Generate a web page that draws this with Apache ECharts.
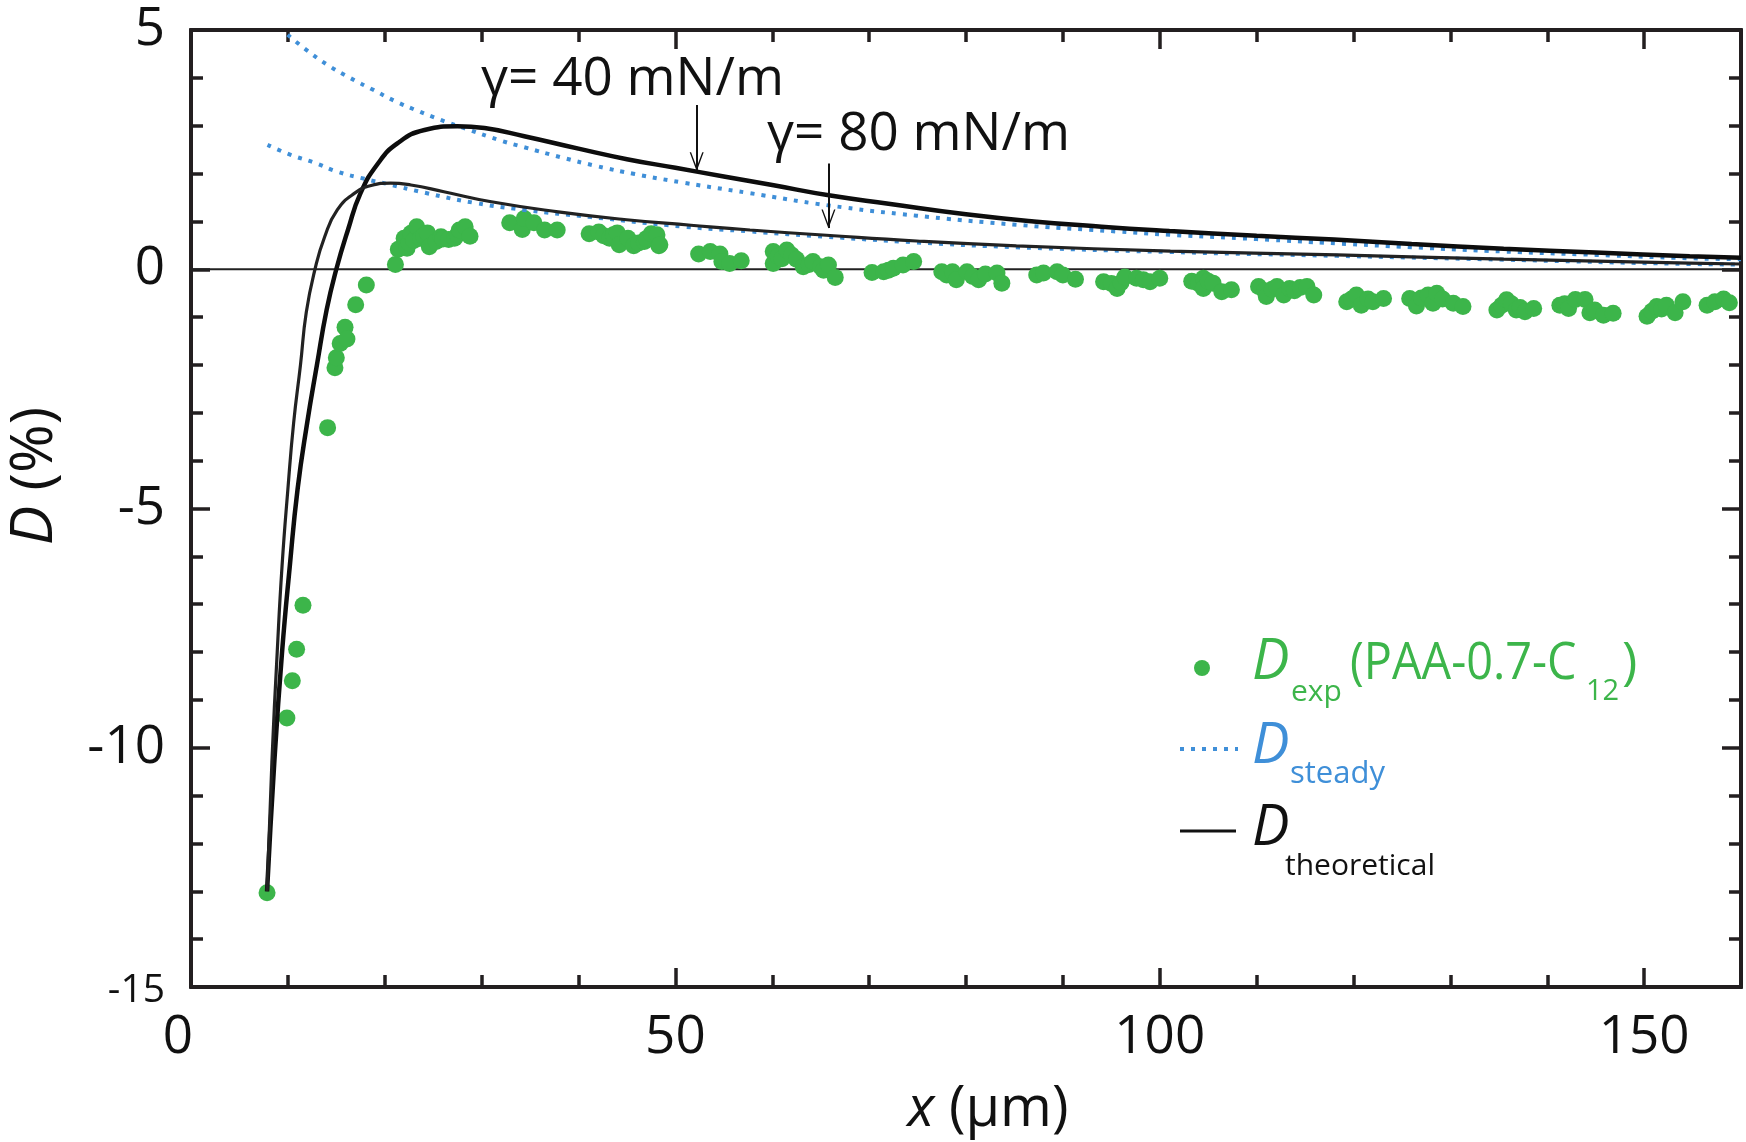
<!DOCTYPE html>
<html>
<head>
<meta charset="utf-8">
<title>D vs x</title>
<script src="https://cdn.jsdelivr.net/npm/echarts@6/dist/echarts.min.js"></script>
<style>
  html, body { margin: 0; padding: 0; background: #fff; }
  #chart { width: 1746px; height: 1142px; }
</style>
</head>
<body>
<div id="chart"></div>
<script>
// measured points, D_exp (PAA-0.7-C12)
const expX = [
  7.85, 9.9, 10.46, 10.9, 11.56, 14.1, 14.86, 15.0, 15.4, 15.9, 16.1, 17.0, 18.1,
  21.1, 21.4, 22.0, 22.3, 22.5, 22.7, 23.0, 23.3, 23.7, 24.0, 24.4, 24.6, 25.3, 25.8, 26.0, 26.6, 27.2, 27.5, 27.7, 28.3, 28.8,
  32.9, 34.2, 34.4, 35.4, 36.5, 37.8,
  41.1, 42.1, 42.6, 43.2, 43.6, 44.0, 44.2, 45.1, 45.7, 46.2, 46.8, 47.0, 47.5, 48.1, 48.3, 48.4,
  52.4, 53.6, 54.6, 54.8, 55.6, 56.8,
  60.1, 60.1, 60.6, 61.0, 61.5, 62.0, 62.5, 63.2, 63.8, 64.2, 65.0, 65.3, 65.8, 66.5,
  70.3, 71.5, 72.0, 72.5, 73.5, 74.6,
  77.5, 78.0, 78.6, 79.0, 80.1, 80.7, 81.3, 82.0, 83.2, 83.7,
  87.3, 88.0, 89.4, 90.0, 91.3,
  94.2, 95.0, 95.6, 96.0, 96.4, 97.6, 98.3, 99.0, 100.0,
  103.3, 104.0, 104.5, 104.5, 105.0, 105.5, 106.4, 107.4,
  110.2, 110.8, 111.0, 111.6, 112.1, 112.8, 113.4, 113.9, 114.5, 115.2, 115.9,
  119.3, 119.8, 120.3, 120.8, 121.5, 122.0, 123.1,
  125.8, 126.5, 127.0, 127.7, 128.2, 128.6, 129.2, 130.3, 131.3,
  134.8, 135.3, 135.8, 136.3, 136.8, 137.2, 137.7, 138.6,
  141.3, 141.8, 142.2, 142.9, 143.9, 144.4, 144.9, 145.8, 146.8,
  150.3, 150.8, 151.3, 151.8, 152.3, 153.2, 154.0,
  156.5, 157.3, 158.2, 158.8
];
const expD = [
  -13.03, -9.38, -8.6, -7.94, -7.02, -3.31, -2.06, -1.85, -1.55, -1.21, -1.46, -0.74, -0.33,
  0.10, 0.42, 0.65, 0.44, 0.55, 0.75, 0.60, 0.89, 0.65, 0.70, 0.76, 0.47, 0.58, 0.68, 0.63, 0.62, 0.65, 0.72, 0.82, 0.89, 0.69,
  0.97, 0.83, 1.06, 0.97, 0.82, 0.82,
  0.74, 0.78, 0.70, 0.65, 0.72, 0.76, 0.51, 0.65, 0.49, 0.55, 0.58, 0.64, 0.74, 0.72, 0.49, 0.51,
  0.32, 0.37, 0.32, 0.16, 0.12, 0.18,
  0.37, 0.12, 0.27, 0.22, 0.40, 0.30, 0.21, 0.05, 0.10, 0.16, 0.05, -0.02, 0.09, -0.17,
  -0.07, -0.05, -0.02, 0.02, 0.09, 0.16,
  -0.05, -0.12, -0.05, -0.22, -0.05, -0.15, -0.22, -0.10, -0.08, -0.29,
  -0.12, -0.08, -0.05, -0.12, -0.21,
  -0.26, -0.30, -0.40, -0.28, -0.16, -0.19, -0.22, -0.26, -0.19,
  -0.25, -0.30, -0.19, -0.40, -0.25, -0.29, -0.47, -0.43,
  -0.36, -0.45, -0.57, -0.42, -0.36, -0.54, -0.40, -0.45, -0.38, -0.36, -0.54,
  -0.68, -0.62, -0.54, -0.75, -0.62, -0.68, -0.61,
  -0.61, -0.77, -0.60, -0.54, -0.71, -0.50, -0.62, -0.71, -0.78,
  -0.85, -0.75, -0.64, -0.72, -0.85, -0.80, -0.89, -0.82,
  -0.75, -0.72, -0.82, -0.63, -0.63, -0.91, -0.85, -0.96, -0.92,
  -0.98, -0.88, -0.78, -0.83, -0.75, -0.91, -0.68,
  -0.75, -0.68, -0.62, -0.70
];

// D_theoretical, gamma = 40 mN/m (thick) and 80 mN/m (thin)
const theoX40 = [7.85, 8.6, 9.4, 10.2, 11.0, 12.0, 13.0, 14.0, 15.0, 16.2, 17.5, 19.3, 21.3, 24.1, 27.5, 30.3, 34.4, 40, 45, 50, 55, 60, 66, 72, 80, 87, 94, 101, 110, 118, 126, 135.5, 145, 154.7, 160];
const theoD40 = [-13.0, -10.3, -8.0, -6.2, -4.6, -3.2, -2.0, -0.85, 0.0, 0.82, 1.59, 2.21, 2.63, 2.91, 2.99, 2.95, 2.78, 2.52, 2.30, 2.12, 1.94, 1.76, 1.54, 1.37, 1.15, 1.00, 0.89, 0.80, 0.70, 0.62, 0.53, 0.43, 0.35, 0.27, 0.24];
const theoX80 = [7.85, 8.35, 8.9, 9.4, 10.0, 10.6, 11.3, 11.9, 12.8, 13.8, 15.1, 16.9, 18.6, 20.6, 22.7, 26.1, 31.0, 37.9, 44.7, 51.6, 57.7, 65.6, 74.9, 85.2, 101.1, 118.3, 135.5, 154.7, 160];
const theoD80 = [-13.0, -10.3, -8.0, -6.2, -4.6, -3.2, -2.0, -0.9, 0.0, 0.68, 1.24, 1.59, 1.75, 1.80, 1.76, 1.62, 1.41, 1.20, 1.04, 0.92, 0.82, 0.71, 0.59, 0.49, 0.38, 0.30, 0.21, 0.13, 0.11];

// D_steady for the same two tensions (dotted)
const steadyX40 = [9.98, 12.0, 14.1, 16.5, 18.8, 21.0, 23.4, 25.8, 28.2, 31.8, 34.4, 38.2, 41.8, 45.8, 50.8, 57.7, 65.6, 74.9, 85.2, 95.5, 101.1, 110, 118.3, 126, 135.5, 145, 154.7, 160];
const steadyD40 = [4.90, 4.57, 4.27, 3.99, 3.75, 3.52, 3.31, 3.12, 2.95, 2.70, 2.55, 2.34, 2.16, 1.99, 1.81, 1.59, 1.34, 1.12, 0.93, 0.79, 0.72, 0.63, 0.54, 0.46, 0.37, 0.30, 0.23, 0.21];
const steadyX80 = [7.9, 10.3, 12.7, 15.1, 17.9, 20.3, 24.1, 29.2, 34.4, 41.3, 50.9, 57.7, 65.6, 74.9, 85.2, 101.1, 118.3, 135.5, 154.7, 160];
const steadyD80 = [2.60, 2.39, 2.23, 2.04, 1.89, 1.78, 1.60, 1.39, 1.24, 1.09, 0.89, 0.79, 0.68, 0.56, 0.46, 0.36, 0.28, 0.20, 0.11, 0.10];

const xLabels = [0, 50, 100, 150];
const yLabels = [5, 0, -5, -10, -15];

// arrows: [x, yFrom, yTo]
const arrow40 = [52.2, 3.43, 2.06];
const arrow80 = [65.8, 2.21, 0.86];

const FONT = "'Open Sans', 'Noto Sans', sans-serif";
const AXIS = '#231f20';
const GREEN = '#3cb54a';
const BLUE = '#3f8fd8';

const zip = (xs, ys) => xs.map((x, i) => [x, ys[i]]);

// open chevron pointing up (tip at top)
const arrowHead = 'path://M0,10 L5,0 L10,10 L9,10 L5,2.2 L1,10 Z';

function xAxisDef(pos, interval, len, labels) {
  return {
    type: 'value', min: 0, max: 160, interval: interval, position: pos,
    axisLine: { show: true, onZero: false, lineStyle: { color: AXIS, width: 4 } },
    axisTick: { show: true, inside: true, length: len, lineStyle: { color: AXIS, width: 3.5 } },
    axisLabel: labels ? {
      show: true, margin: 24, color: '#111', fontSize: 53, fontFamily: FONT,
      formatter: v => xLabels.indexOf(v) < 0 ? '' : (v === 0 ? '{z|0}' : String(v)),
      rich: { z: { fontSize: 53, fontFamily: FONT, color: '#111', padding: [0, 26, 0, 0] } }
    } : { show: false },
    splitLine: { show: false }
  };
}

function yAxisDef(pos, interval, len, labels) {
  return {
    type: 'value', min: -15, max: 5, interval: interval, position: pos,
    axisLine: { show: true, onZero: false, lineStyle: { color: AXIS, width: 4 } },
    axisTick: { show: true, inside: true, length: len, lineStyle: { color: AXIS, width: 3.5 } },
    axisLabel: labels ? {
      show: true, margin: 26, color: '#111', fontFamily: FONT,
      formatter: v => yLabels.indexOf(v) < 0 ? '' : (v === -15 ? '{s|-15}' : '{b|' + v + '}'),
      rich: {
        b: { fontSize: 53, fontFamily: FONT, color: '#111' },
        s: { fontSize: 39, fontFamily: FONT, color: '#111', padding: [8, 0, 0, 0] }
      }
    } : { show: false },
    splitLine: { show: false }
  };
}

function txt(x, y, text, size, color, extra, sx) {
  return {
    type: 'text', x: x, y: y, silent: true, scaleX: sx || 1,
    style: Object.assign({
      text: text, fill: color, fontSize: size, fontFamily: FONT,
      textAlign: 'left', textVerticalAlign: 'middle'
    }, extra || {})
  };
}

function arrowLine(a) {
  return [
    { coord: [a[0], a[1]], symbol: 'none' },
    { coord: [a[0], a[2]], symbol: arrowHead, symbolSize: [14, 19], symbolOffset: [0, 9] }
  ];
}

const chart = echarts.init(document.getElementById('chart'));

chart.setOption({
  animation: false,
  backgroundColor: '#fff',
  grid: { left: 191, right: 5, top: 30, bottom: 155, containLabel: false },
  xAxis: [
    xAxisDef('bottom', 10, 12, true),
    xAxisDef('bottom', 50, 19, false),
    xAxisDef('top', 10, 12, false),
    xAxisDef('top', 50, 19, false)
  ],
  yAxis: [
    yAxisDef('left', 5, 19, true),
    yAxisDef('left', 1, 12, false),
    yAxisDef('right', 1, 12, false),
    yAxisDef('right', 5, 19, false)
  ],
  series: [
    {
      name: 'zero', type: 'line', data: [[0, 0], [160, 0]], z: 1, silent: true,
      symbol: 'none', lineStyle: { color: '#222', width: 2 }
    },
    {
      name: 'Dexp', type: 'scatter', data: zip(expX, expD), z: 2,
      symbol: 'circle', symbolSize: 17, itemStyle: { color: GREEN, opacity: 1 }
    },
    {
      name: 'Dsteady40', type: 'line', data: zip(steadyX40, steadyD40), z: 3,
      symbol: 'none', smooth: 0.5,
      lineStyle: { color: BLUE, width: 4, type: [4, 7] }
    },
    {
      name: 'Dsteady80', type: 'line', data: zip(steadyX80, steadyD80), z: 3,
      symbol: 'none', smooth: 0.5,
      lineStyle: { color: BLUE, width: 4, type: [4, 7] }
    },
    {
      name: 'Dtheo40', type: 'line', data: zip(theoX40, theoD40), z: 4,
      symbol: 'none', smooth: 0.5,
      lineStyle: { color: '#0d0d0d', width: 4.5 },
      markLine: {
        silent: true, animation: false,
        symbol: ['none', 'none'],
        label: { show: false },
        lineStyle: { color: '#111', width: 2, type: 'solid' },
        data: [arrowLine(arrow40), arrowLine(arrow80)]
      }
    },
    {
      name: 'Dtheo80', type: 'line', data: zip(theoX80, theoD80), z: 4,
      symbol: 'none', smooth: 0.5,
      lineStyle: { color: '#222', width: 3.2 }
    }
  ],
  graphic: [
    // annotations
    txt(481, 80, 'γ= 40 mN/m', 53, '#111'),
    txt(767, 135, 'γ= 80 mN/m', 53, '#111'),
    // axis titles
    txt(988, 1110, '{i|x} (µm)', 56, '#111', {
      textAlign: 'center', rich: { i: { fontStyle: 'italic', fontSize: 56, fontFamily: FONT, fill: '#111' } }
    }),
    {
      type: 'text', x: 35, y: 476, rotation: Math.PI / 2, silent: true,
      style: {
        text: '{i|D} (%)', fill: '#111', fontSize: 59, fontFamily: FONT,
        textAlign: 'center', textVerticalAlign: 'middle',
        rich: { i: { fontStyle: 'italic', fontSize: 59, fontFamily: FONT, fill: '#111' } }
      }
    },
    // legend
    { type: 'circle', shape: { cx: 1202, cy: 668, r: 8 }, style: { fill: GREEN }, silent: true },
    txt(1252, 663, 'D', 56, GREEN, { fontStyle: 'italic' }),
    txt(1291, 692, 'exp', 30, GREEN),
    txt(1350, 664, '(PAA-0.7-C', 52, GREEN, null, 0.9),
    txt(1586, 692, '12', 29, GREEN),
    txt(1622, 664, ')', 52, GREEN),
    {
      type: 'line', shape: { x1: 1180, y1: 749, x2: 1238, y2: 749 }, silent: true,
      style: { stroke: BLUE, lineWidth: 4, lineDash: [4, 7] }
    },
    txt(1252, 747, 'D', 56, BLUE, { fontStyle: 'italic' }),
    txt(1290, 774, 'steady', 31, BLUE),
    {
      type: 'line', shape: { x1: 1180, y1: 831, x2: 1236, y2: 831 }, silent: true,
      style: { stroke: '#111', lineWidth: 3.2 }
    },
    txt(1252, 829, 'D', 56, '#111', { fontStyle: 'italic' }),
    txt(1285, 866, 'theoretical', 30, '#111')
  ]
});
</script>
</body>
</html>
